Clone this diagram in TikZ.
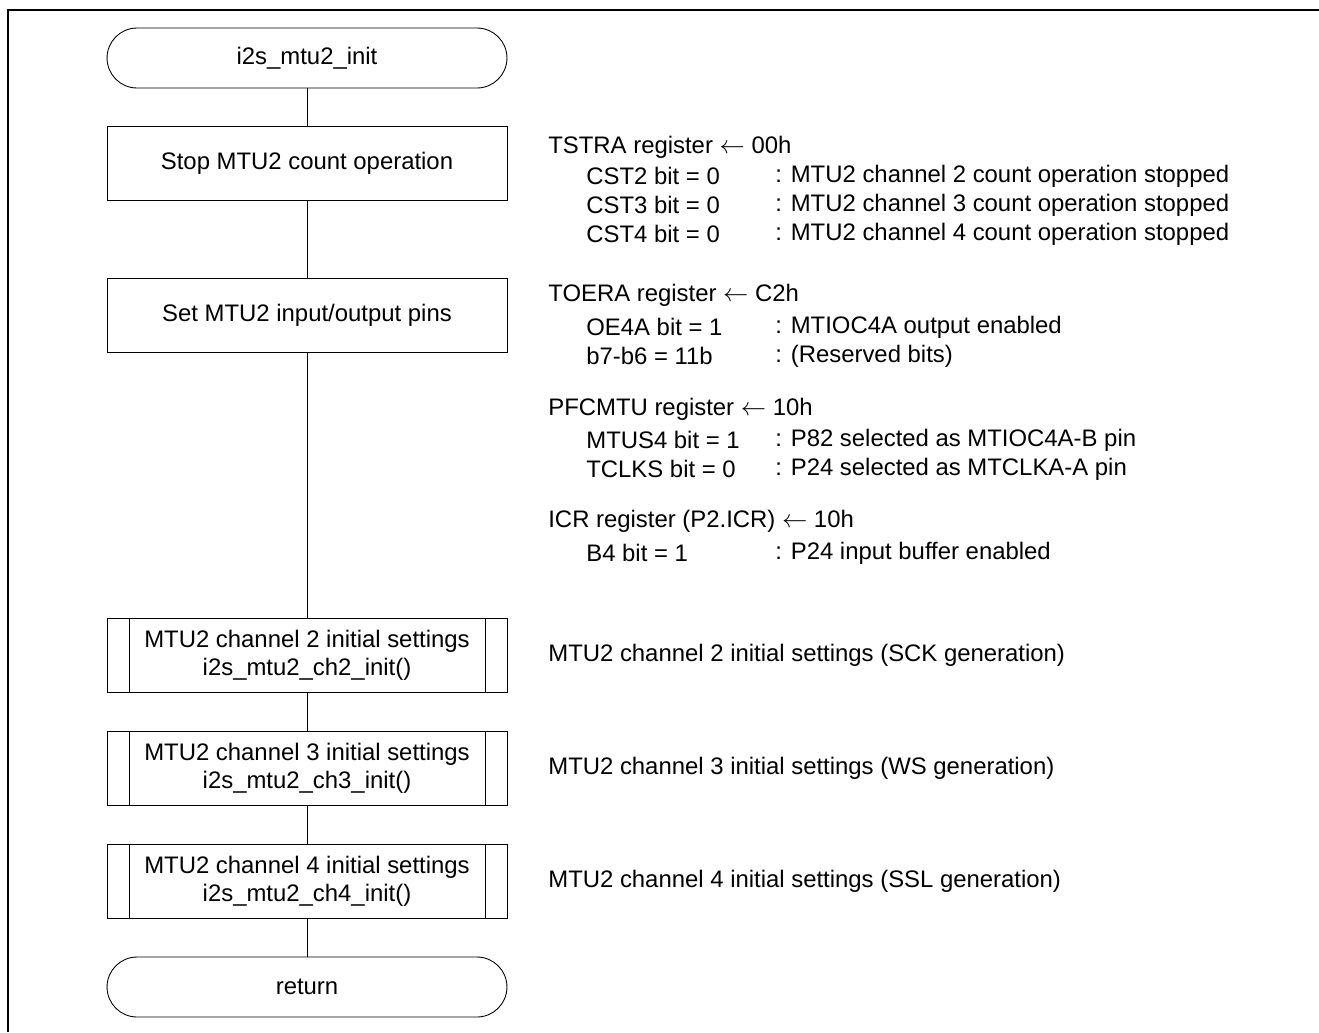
\documentclass[tikz,border=0pt]{standalone}
\usepackage{fontspec}
\setmainfont{Liberation Sans}
\usepackage{xcolor}
\definecolor{ink}{HTML}{000000}
\usepackage{tikz}
\usetikzlibrary{positioning, calc}
\newcommand{\regarrow}{\ensuremath{\leftarrow}}

\begin{document}
\begin{tikzpicture}[
  x=0.02cm, y=-0.02cm,
  font=\fontsize{13.6}{16}\selectfont,
  term/.style={
    rectangle, rounded corners=0.6cm, draw=ink, line width=0.5pt,
    minimum width=8cm, minimum height=1.2cm, inner sep=0pt
  },
  proc/.style={
    rectangle, draw=ink, line width=0.5pt,
    minimum width=8cm, minimum height=1.48cm, inner sep=0pt, align=center
  },
  subproc/.style={
    proc,
    path picture={
      \draw[line width=0.5pt] ([xshift=0.44cm]path picture bounding box.north west)
        -- ([xshift=0.44cm]path picture bounding box.south west);
      \draw[line width=0.5pt] ([xshift=-0.44cm]path picture bounding box.north east)
        -- ([xshift=-0.44cm]path picture bounding box.south east);
    }
  },
  note/.style={anchor=west, inner sep=0pt}
]
  \useasboundingbox (0,0) rectangle (1319,1032);
  \draw[line width=1.2pt] (8,1032) -- (8,10) -- (1319,10);

  \node[term] (start) at (307,58) {i2s\_mtu2\_init};
  \node[proc] (stop) at (307,163.5) {Stop MTU2 count operation};
  \node[proc] (pins) at (307,315) {Set MTU2 input/output pins};
  \node[subproc] (ch2) at (307,655) {MTU2 channel 2 initial settings\\i2s\_mtu2\_ch2\_init()};
  \node[subproc] (ch3) at (307,768) {MTU2 channel 3 initial settings\\i2s\_mtu2\_ch3\_init()};
  \node[subproc] (ch4) at (307,881) {MTU2 channel 4 initial settings\\i2s\_mtu2\_ch4\_init()};
  \node[term] (ret) at (307,987) {return};

  \draw[line width=0.5pt] (start) -- (stop);
  \draw[line width=0.5pt] (stop) -- (pins);
  \draw[line width=0.5pt] (pins) -- (ch2);
  \draw[line width=0.5pt] (ch2) -- (ch3);
  \draw[line width=0.5pt] (ch3) -- (ch4);
  \draw[line width=0.5pt] (ch4) -- (ret);

  \node[note] (tstra) at (548,147) {TSTRA register \regarrow{} 00h};
  \node[note] (cst2) at (586,176) {CST2 bit = 0};
  \node[note] (cst2d) at (775,176) {: MTU2 channel 2 count operation stopped};
  \node[note] (cst3) at (586,205) {CST3 bit = 0};
  \node[note] (cst3d) at (775,205) {: MTU2 channel 3 count operation stopped};
  \node[note] (cst4) at (586,234) {CST4 bit = 0};
  \node[note] (cst4d) at (775,234) {: MTU2 channel 4 count operation stopped};

  \node[note] (toera) at (548,295) {TOERA register \regarrow{} C2h};
  \node[note] (oe4a) at (586,327) {OE4A bit = 1};
  \node[note] (oe4ad) at (775,327) {: MTIOC4A output enabled};
  \node[note] (rsv) at (586,356) {b7-b6 = 11b};
  \node[note] (rsvd) at (775,356) {: (Reserved bits)};

  \node[note] (pfc) at (548,409) {PFCMTU register \regarrow{} 10h};
  \node[note] (mtus4) at (586,440) {MTUS4 bit = 1};
  \node[note] (mtus4d) at (775,440) {: P82 selected as MTIOC4A-B pin};
  \node[note] (tclks) at (586,469) {TCLKS bit = 0};
  \node[note] (tclksd) at (775,469) {: P24 selected as MTCLKA-A pin};

  \node[note] (icr) at (548,521) {ICR register (P2.ICR) \regarrow{} 10h};
  \node[note] (b4) at (586,553) {B4 bit = 1};
  \node[note] (b4d) at (775,553) {: P24 input buffer enabled};

  \node[note] (ch2n) at (548,655) {MTU2 channel 2 initial settings (SCK generation)};
  \node[note] (ch3n) at (548,768) {MTU2 channel 3 initial settings (WS generation)};
  \node[note] (ch4n) at (548,881) {MTU2 channel 4 initial settings (SSL generation)};
\end{tikzpicture}
\end{document}
